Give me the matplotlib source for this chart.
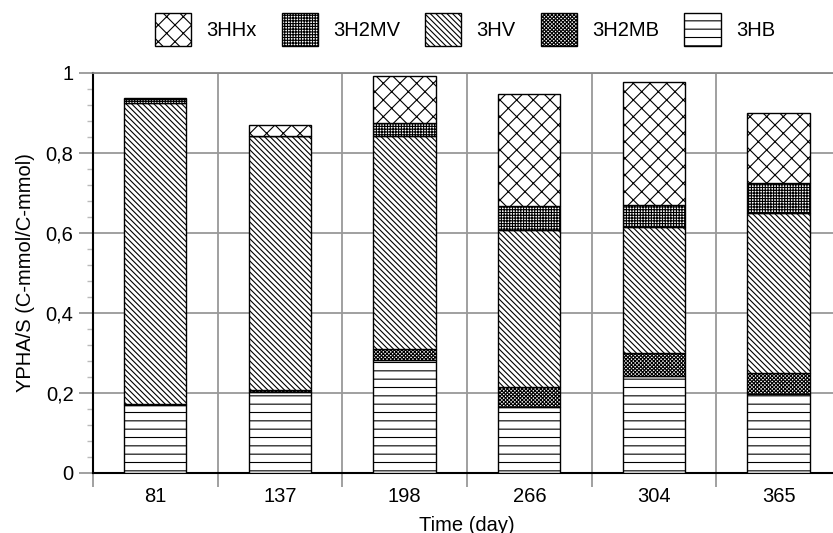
import numpy as np
import matplotlib
matplotlib.use('Agg')
import matplotlib.pyplot as plt
from matplotlib.ticker import FuncFormatter, MultipleLocator

plt.rcParams['font.family'] = ['Liberation Sans', 'DejaVu Sans']
plt.rcParams['hatch.linewidth'] = 0.8

# values (YPHA/S, C-mmol/C-mmol)
days = ['81', '137', '198', '266', '304', '365']
hb = [0.170, 0.203, 0.282, 0.166, 0.243, 0.197]
h2mb = [0.003, 0.004, 0.028, 0.049, 0.057, 0.053]
hv = [0.752, 0.635, 0.532, 0.393, 0.316, 0.400]
h2mv = [0.010, 0.000, 0.033, 0.060, 0.054, 0.075]
hhx = [0.002, 0.028, 0.117, 0.280, 0.308, 0.175]

series = [('3HB', hb, '--'),
          ('3H2MB', h2mb, 'xxxxxxxxx'),
          ('3HV', hv, '\\' * 6),
          ('3H2MV', h2mv, '++++++'),
          ('3HHx', hhx, 'xx')]

fs = 14.5

fig = plt.figure(figsize=(8.33, 5.33), dpi=100)
ax = fig.add_axes([0.1116, 0.1126, 0.898, 0.7505])

x = np.arange(len(days))
bottom = np.zeros(len(days))
handles = {}
for name, vals, hatch in series:
    b = ax.bar(x, vals, 0.5, bottom=bottom, color='white', edgecolor='black',
               hatch=hatch, linewidth=1.0, label=name, zorder=3)
    handles[name] = b
    bottom += np.array(vals)

ax.set_xlim(-0.5, 5.5)
ax.set_ylim(0, 1)

# grid / ticks
ax.set_xticks(np.arange(-0.5, 6, 1))
ax.set_xticklabels([])
ax.set_xticks(x, minor=True)
ax.set_xticklabels(days, minor=True, fontsize=fs)
ax.tick_params(axis='x', which='major', length=10, color='#999999', width=1.3)
ax.tick_params(axis='x', which='minor', length=0, pad=10)

ax.yaxis.set_major_locator(MultipleLocator(0.2))
ax.yaxis.set_minor_locator(MultipleLocator(0.04))
ax.yaxis.set_major_formatter(FuncFormatter(lambda v, p: ('%g' % round(v, 2)).replace('.', ',')))
ax.tick_params(axis='y', which='major', length=10, color='#999999', width=1.3, labelsize=fs, pad=4)
ax.tick_params(axis='y', which='minor', length=4, color='#bbbbbb', width=1)

ax.grid(True, which='major', color='#999999', linewidth=1.3, zorder=0)
ax.set_axisbelow(True)

for s in ['top', 'right']:
    ax.spines[s].set_color('#888888')
    ax.spines[s].set_linewidth(1.3)
ax.spines['left'].set_linewidth(1.5)
ax.spines['bottom'].set_linewidth(1.5)

ax.set_ylabel('YPHA/S (C-mmol/C-mmol)', fontsize=fs, labelpad=8)
ax.set_xlabel('Time (day)', fontsize=fs, labelpad=7)

order = ['3HHx', '3H2MV', '3HV', '3H2MB', '3HB']
fig.legend([handles[n] for n in order], order, loc='upper center',
           bbox_to_anchor=(0.558, 1.0), ncol=5, frameon=False, fontsize=fs,
           handlelength=1.8, handleheight=2.1, handletextpad=0.75,
           columnspacing=1.25, borderaxespad=0.25)

fig.savefig('out.png', dpi=100)
